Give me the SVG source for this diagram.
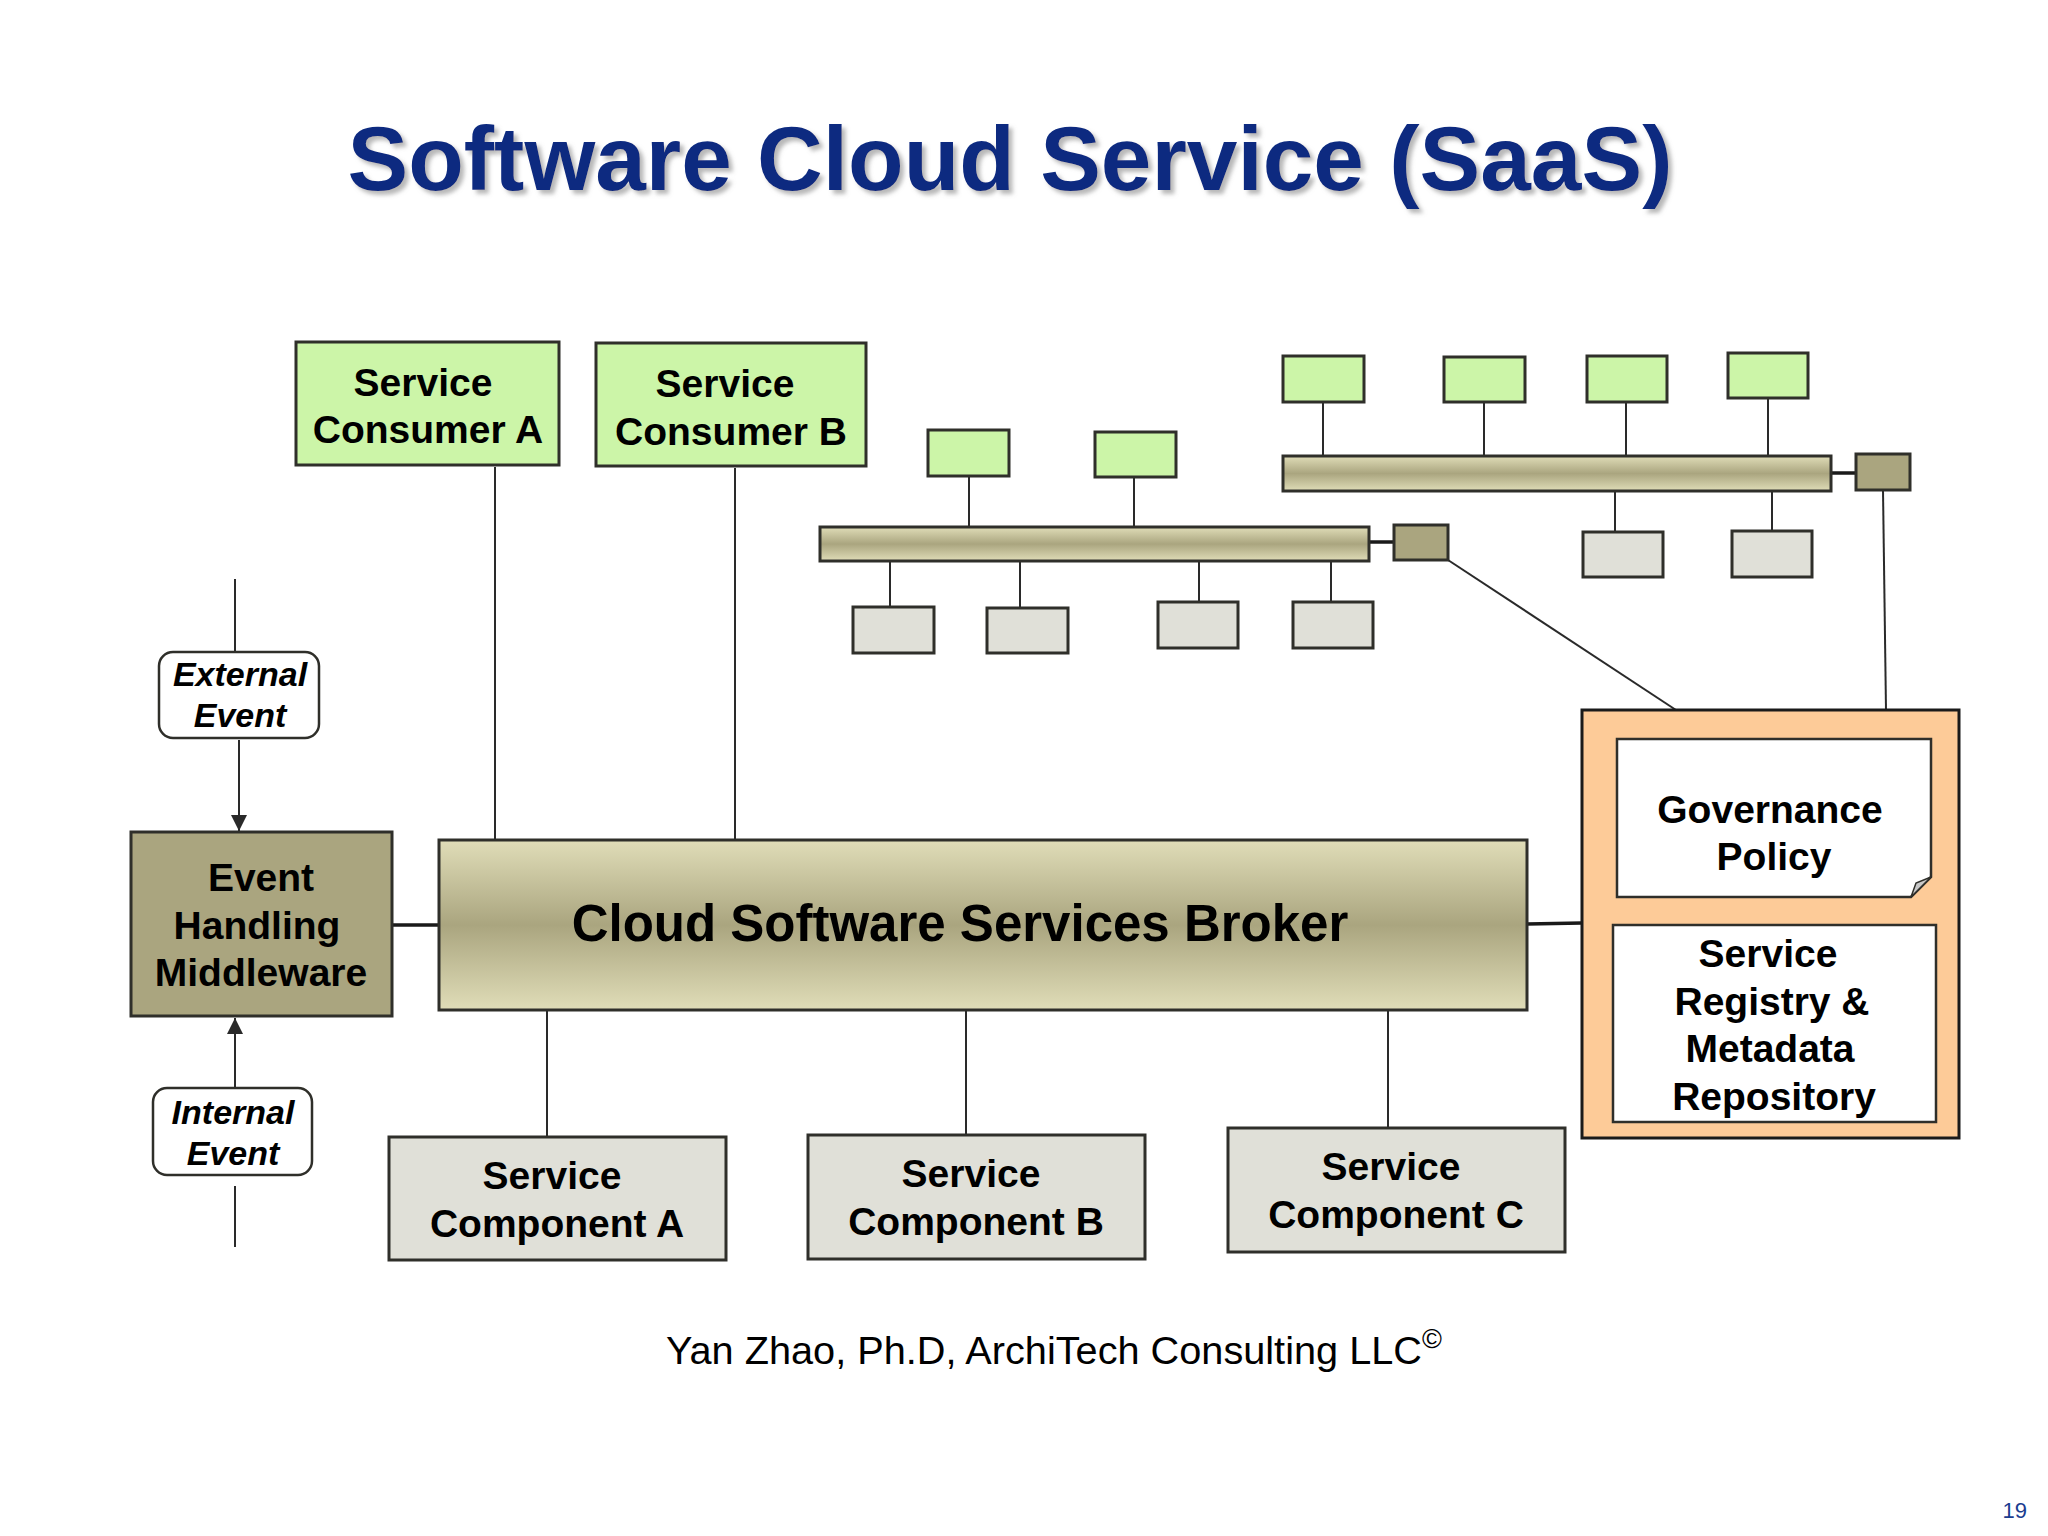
<svg xmlns="http://www.w3.org/2000/svg" width="2048" height="1536" viewBox="0 0 2048 1536">
<defs>
<style>
.lbl{font-family:"Liberation Sans",Arial,sans-serif;font-weight:bold;font-size:39px;fill:#000;text-anchor:middle}
.ital{font-family:"Liberation Sans",Arial,sans-serif;font-weight:bold;font-style:italic;font-size:34px;fill:#000;text-anchor:middle}
.green{fill:#ccf5a8;stroke:#2f2f2a;stroke-width:3}
.grey{fill:#e0e0d8;stroke:#2f2f2a;stroke-width:3}
.olive{fill:#aaa57f;stroke:#2f2f2a;stroke-width:3}
.white{fill:#fff;stroke:#2f2f2a;stroke-width:2.5}
.ln{stroke:#2a2a2a;stroke-width:2;fill:none}
.thick{stroke:#1a1a1a;stroke-width:3.5;fill:none}
</style>
<linearGradient id="bar" x1="0" y1="0" x2="0" y2="1">
<stop offset="0" stop-color="#e0ddb8"/>
<stop offset="0.5" stop-color="#aaa57f"/>
<stop offset="1" stop-color="#e0ddb8"/>
</linearGradient>
<marker id="arr" viewBox="0 0 10 10" refX="10" refY="5" markerWidth="16" markerHeight="16" markerUnits="userSpaceOnUse" orient="auto">
<path d="M0,0 L10,5 L0,10 z" fill="#2a2a2a"/>
</marker>
<filter id="shadow" x="-5%" y="-20%" width="110%" height="150%">
<feDropShadow dx="4" dy="4" stdDeviation="2" flood-color="#888" flood-opacity="0.6"/>
</filter>
</defs>
<rect width="2048" height="1536" fill="#fff"/>

<text id="title" x="1010" y="190" font-family="Liberation Sans,Arial,sans-serif" font-weight="bold" font-size="91" fill="#0c2b80" text-anchor="middle" filter="url(#shadow)">Software Cloud Service (SaaS)</text>

<g id="connectors">
<line class="ln" x1="495" y1="467" x2="495" y2="840"/>
<line class="ln" x1="735" y1="468" x2="735" y2="840"/>
<line class="thick" x1="392" y1="925" x2="439" y2="925"/>
<line class="thick" x1="1527" y1="924" x2="1582" y2="923"/>
<line class="ln" x1="547" y1="1010" x2="547" y2="1137"/>
<line class="ln" x1="966" y1="1010" x2="966" y2="1135"/>
<line class="ln" x1="1388" y1="1010" x2="1388" y2="1128"/>
<line class="ln" x1="235" y1="579" x2="235" y2="651"/>
<line class="ln" x1="239" y1="740" x2="239" y2="831" marker-end="url(#arr)"/>
<line class="ln" x1="235" y1="1087" x2="235" y2="1018" marker-end="url(#arr)"/>
<line class="ln" x1="235" y1="1186" x2="235" y2="1247"/>
<line class="ln" x1="1774" y1="897" x2="1774" y2="925"/>
<line class="thick" x1="1369" y1="542" x2="1394" y2="542"/>
<line class="thick" x1="1831" y1="473" x2="1856" y2="473"/>
<line class="ln" x1="1448" y1="560" x2="1676" y2="710"/>
<line class="ln" x1="1883" y1="490" x2="1886" y2="710"/>
<line class="ln" x1="969" y1="476" x2="969" y2="527"/>
<line class="ln" x1="1134" y1="477" x2="1134" y2="527"/>
<line class="ln" x1="890" y1="561" x2="890" y2="607"/>
<line class="ln" x1="1020" y1="558" x2="1020" y2="608"/>
<line class="ln" x1="1199" y1="561" x2="1199" y2="602"/>
<line class="ln" x1="1331" y1="561" x2="1331" y2="602"/>
<line class="ln" x1="1323" y1="402" x2="1323" y2="456"/>
<line class="ln" x1="1484" y1="402" x2="1484" y2="456"/>
<line class="ln" x1="1626" y1="402" x2="1626" y2="456"/>
<line class="ln" x1="1768" y1="398" x2="1768" y2="456"/>
<line class="ln" x1="1615" y1="491" x2="1615" y2="532"/>
<line class="ln" x1="1772" y1="491" x2="1772" y2="531"/>
</g>

<g id="consumer-a">
<rect class="green" x="296" y="342" width="263" height="123"/>
<text class="lbl" x="423" y="396">Service</text>
<text class="lbl" x="428" y="443">Consumer A</text>
</g>
<g id="consumer-b">
<rect class="green" x="596" y="343" width="270" height="123"/>
<text class="lbl" x="725" y="397">Service</text>
<text class="lbl" x="731" y="445">Consumer B</text>
</g>

<g id="broker">
<rect x="439" y="840" width="1088" height="170" fill="url(#bar)" stroke="#2f2f2a" stroke-width="3"/>
<text class="lbl" x="960" y="941" style="font-size:51px">Cloud Software Services Broker</text>
</g>

<g id="event-handling">
<rect class="olive" x="131" y="832" width="261" height="184"/>
<text class="lbl" x="261" y="891">Event</text>
<text class="lbl" x="257" y="939">Handling</text>
<text class="lbl" x="261" y="986">Middleware</text>
</g>

<g id="external-event">
<rect x="159" y="652" width="160" height="86" rx="14" fill="#fff" stroke="#2f2f2a" stroke-width="2.5"/>
<text class="ital" x="240" y="686">External</text>
<text class="ital" x="240" y="727">Event</text>
</g>

<g id="internal-event">
<rect x="153" y="1088" width="159" height="87" rx="14" fill="#fff" stroke="#2f2f2a" stroke-width="2.5"/>
<text class="ital" x="233" y="1124">Internal</text>
<text class="ital" x="233" y="1165">Event</text>
</g>

<g id="component-a">
<rect class="grey" x="389" y="1137" width="337" height="123"/>
<text class="lbl" x="552" y="1189">Service</text>
<text class="lbl" x="557" y="1237">Component A</text>
</g>
<g id="component-b">
<rect class="grey" x="808" y="1135" width="337" height="124"/>
<text class="lbl" x="971" y="1187">Service</text>
<text class="lbl" x="976" y="1235">Component B</text>
</g>
<g id="component-c">
<rect class="grey" x="1228" y="1128" width="337" height="124"/>
<text class="lbl" x="1391" y="1180">Service</text>
<text class="lbl" x="1396" y="1228">Component C</text>
</g>

<g id="governance">
<rect x="1582" y="710" width="377" height="428" fill="#fdcb98" stroke="#1a1a1a" stroke-width="3"/>
<g id="governance-policy">
<path d="M1617,739 H1931 V877 L1911,897 H1617 Z" fill="#fff" stroke="#2f2f2a" stroke-width="2.5"/>
<path d="M1931,877 L1911,897 L1916,883 Z" fill="#c8c8c8" stroke="#2f2f2a" stroke-width="1.5"/>
<text class="lbl" x="1770" y="823">Governance</text>
<text class="lbl" x="1774" y="870">Policy</text>
</g>
<g id="service-registry">
<rect class="white" x="1613" y="925" width="323" height="197"/>
<text class="lbl" x="1768" y="967">Service</text>
<text class="lbl" x="1772" y="1015">Registry &amp;</text>
<text class="lbl" x="1770" y="1062">Metadata</text>
<text class="lbl" x="1774" y="1110">Repository</text>
</g>
</g>

<g id="network">
<g id="bus-1"><rect x="820" y="527" width="549" height="34" fill="url(#bar)" stroke="#2f2f2a" stroke-width="3"/></g>
<g id="bus-1-port"><rect class="olive" x="1394" y="525" width="54" height="35"/></g>
<g id="bus-2"><rect x="1283" y="456" width="548" height="35" fill="url(#bar)" stroke="#2f2f2a" stroke-width="3"/></g>
<g id="bus-2-port"><rect class="olive" x="1856" y="454" width="54" height="36"/></g>
<g id="n-g1"><rect class="green" x="928" y="430" width="81" height="46"/></g>
<g id="n-g2"><rect class="green" x="1095" y="432" width="81" height="45"/></g>
<g id="n-g3"><rect class="green" x="1283" y="356" width="81" height="46"/></g>
<g id="n-g4"><rect class="green" x="1444" y="357" width="81" height="45"/></g>
<g id="n-g5"><rect class="green" x="1587" y="356" width="80" height="46"/></g>
<g id="n-g6"><rect class="green" x="1728" y="353" width="80" height="45"/></g>
<g id="n-s1"><rect class="grey" x="853" y="607" width="81" height="46"/></g>
<g id="n-s2"><rect class="grey" x="987" y="608" width="81" height="45"/></g>
<g id="n-s3"><rect class="grey" x="1158" y="602" width="80" height="46"/></g>
<g id="n-s4"><rect class="grey" x="1293" y="602" width="80" height="46"/></g>
<g id="n-s5"><rect class="grey" x="1583" y="532" width="80" height="45"/></g>
<g id="n-s6"><rect class="grey" x="1732" y="531" width="80" height="46"/></g>
</g>

<text id="footer" x="666" y="1364" font-family="Liberation Sans,Arial,sans-serif" font-size="39.7" fill="#000">Yan Zhao, Ph.D, ArchiTech Consulting LLC<tspan font-size="27" dy="-16">©</tspan></text>
<text id="page" x="2027" y="1518" font-family="Liberation Sans,Arial,sans-serif" font-size="22" fill="#1b3d8f" text-anchor="end">19</text>
</svg>
